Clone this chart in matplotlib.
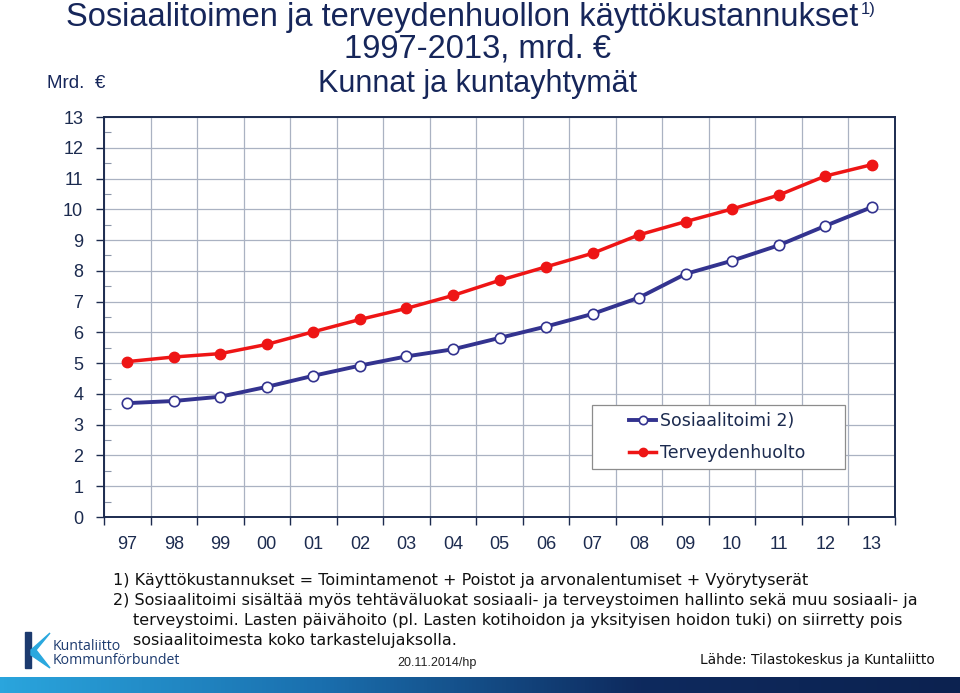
import matplotlib
matplotlib.use("Agg")
import matplotlib.pyplot as plt
import numpy as np
from matplotlib.colors import LinearSegmentedColormap
from matplotlib.patches import Polygon, Rectangle

years = ["97", "98", "99", "00", "01", "02", "03", "04", "05", "06",
         "07", "08", "09", "10", "11", "12", "13"]
sosiaalitoimi = [3.70, 3.77, 3.91, 4.23, 4.59, 4.92, 5.22, 5.45, 5.82, 6.19,
                 6.60, 7.13, 7.90, 8.33, 8.83, 9.46, 10.07]
terveydenhuolto = [5.05, 5.20, 5.31, 5.61, 6.02, 6.42, 6.78, 7.20, 7.69, 8.13,
                   8.57, 9.17, 9.60, 10.01, 10.46, 11.08, 11.45]
yticks = list(range(0, 14))
series_labels = ["Sosiaalitoimi 2)", "Terveydenhuolto"]

NAVY = "#1c2b4f"
TITLE = "#16265a"
BLUE = "#33338f"
RED = "#ee1515"
FONT = ["Liberation Sans", "DejaVu Sans"]
WIDE = ["DejaVu Sans"]

plt.rcParams["font.family"] = FONT

fig = plt.figure(figsize=(9.6, 6.93), dpi=100)
W, H = 960, 693
def fx(px): return px / W
def fy(py): return 1 - py / H

ax = fig.add_axes([fx(104), fy(517), fx(895) - fx(104), fy(117) - fy(517)])
n = len(years)
xs = np.arange(n) + 0.5
ax.set_xlim(0, n)
ax.set_ylim(0, 13)

l1, = ax.plot(xs, sosiaalitoimi, color=BLUE, lw=2.8, marker="o", ms=7.5,
              mfc="white", mec=BLUE, mew=1.2, zorder=3)
l2, = ax.plot(xs, terveydenhuolto, color=RED, lw=2.5, marker="o", ms=7.5,
              mfc=RED, mec=RED, zorder=3)

# ticks & grid
ax.set_xticks(np.arange(0, n + 1))
ax.set_xticklabels([])
ax.set_xticks(xs, minor=True)
ax.set_xticklabels(years, minor=True)
ax.tick_params(axis="x", which="major", direction="out", length=6, color=NAVY, width=1)
ax.tick_params(axis="x", which="minor", length=0, pad=14, labelsize=13, labelcolor=NAVY)
ax.set_yticks(yticks)
ax.set_yticklabels([str(v) for v in yticks])
ax.set_yticks(np.arange(0.5, 13, 1.0), minor=True)
ax.tick_params(axis="y", which="major", direction="out", length=6, color=NAVY,
               width=1, pad=9, labelsize=13, labelcolor=NAVY)
ax.tick_params(axis="y", which="minor", direction="in", length=5, color="#8a94a8", width=0.8)
ax.grid(True, which="major", color="#aab2c2", lw=0.9)
ax.set_axisbelow(True)
for s in ax.spines.values():
    s.set_color(NAVY)
    s.set_linewidth(1.4)

# legend frame drawn manually, legend content centred within it
fig.patches.append(Rectangle((fx(592), fy(469)), fx(845) - fx(592), fy(405) - fy(469),
                             transform=fig.transFigure, facecolor="white",
                             edgecolor="#8c8c8c", lw=0.9, zorder=4))
leg = fig.legend([l1, l2], series_labels, loc="center",
                 bbox_to_anchor=(fx(717), fy(437)), frameon=False,
                 prop={"family": WIDE, "size": 12.5}, handlelength=1.55,
                 handletextpad=0.2, labelspacing=0.8, borderpad=0, markerscale=0.8)
leg.set_zorder(5)
for t in leg.get_texts():
    t.set_color(NAVY)

# titles
t1 = fig.text(fx(462), fy(26), "Sosiaalitoimen ja terveydenhuollon käyttökustannukset",
              ha="center", va="baseline", fontsize=23.5, color=TITLE)
fig.canvas.draw()
bb = t1.get_window_extent()
fig.text((bb.x1 + 3) / W, fy(14), "1)", ha="left", va="baseline", fontsize=12, color=TITLE)
fig.text(fx(478), fy(58), "1997-2013, mrd. €", ha="center", va="baseline",
         fontsize=23.5, color=TITLE)
fig.text(fx(478), fy(92), "Kunnat ja kuntayhtymät", ha="center", va="baseline",
         fontsize=22, color=TITLE)
fig.text(fx(47), fy(88), "Mrd.  €", ha="left", va="baseline", fontsize=13.5,
         color=TITLE)

# footnotes
fn = dict(ha="left", va="center", fontsize=11.55, color="#111111", family=WIDE)
fig.text(fx(113), fy(580), "1) Käyttökustannukset = Toimintamenot + Poistot ja arvonalentumiset + Vyörytyserät", **fn)
fig.text(fx(113), fy(601), "2) Sosiaalitoimi sisältää myös tehtäväluokat sosiaali- ja terveystoimen hallinto sekä muu sosiaali- ja", **fn)
fig.text(fx(133), fy(620), "terveystoimi. Lasten päivähoito (pl. Lasten kotihoidon ja yksityisen hoidon tuki) on siirretty pois", **fn)
fig.text(fx(133), fy(640), "sosiaalitoimesta koko tarkastelujaksolla.", **fn)
fig.text(fx(397), fy(663), "20.11.2014/hp", ha="left", va="center", fontsize=9,
         color="#222222")
fig.text(fx(700), fy(660), "Lähde: Tilastokeskus ja Kuntaliitto", ha="left", va="center",
         fontsize=9.9, color="#111111", family=WIDE)

# logo
fig.text(fx(53), fy(646), "Kuntaliitto", ha="left", va="center", fontsize=10.2,
         color="#1c3a6e", family=["Open Sans", "DejaVu Sans"])
fig.text(fx(53), fy(661), "Kommunförbundet", ha="left", va="center", fontsize=10.2,
         color="#1c3a6e", family=["Open Sans", "DejaVu Sans"])
fig.patches.append(Rectangle((fx(25), fy(668)), fx(6), fy(632) - fy(668),
                             transform=fig.transFigure, color="#1c3a6e"))
fig.patches.append(Polygon([(fx(31), fy(650)), (fx(50), fy(633)), (fx(36), fy(650)),
                            (fx(50), fy(668)), (fx(31), fy(655))], closed=True,
                           transform=fig.transFigure, color="#2aa8de"))

# gradient bar
gax = fig.add_axes([0, 0, 1, fy(677)])
cmap = LinearSegmentedColormap.from_list("g", ["#2aa5dd", "#1a6fae", "#0e2a5e", "#0c2250"])
gax.imshow(np.linspace(0, 1, 256)[None, :], aspect="auto", cmap=cmap,
           extent=[0, 1, 0, 1])
gax.axis("off")

fig.savefig("out.png", dpi=100)
